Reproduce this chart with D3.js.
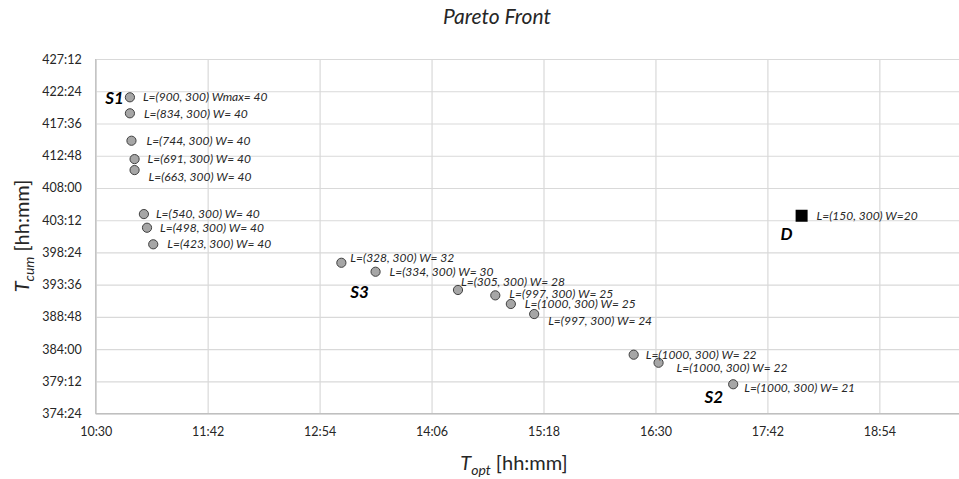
<!DOCTYPE html>
<html>
<head>
<meta charset="utf-8">
<script src="https://cdn.jsdelivr.net/npm/d3@7/dist/d3.min.js"></script>
<style>
  body { margin: 0; background: #fff; }
  text { font-family: Lato, "Open Sans", sans-serif; }
</style>
</head>
<body>
<div id="chart-area"></div>
<script>
// tick labels (hh:mm); the x axis runs on past the window edge to xEnd
const xTickLabels = ['10:30', '11:42', '12:54', '14:06', '15:18', '16:30', '17:42', '18:54'];
const xEnd = '20:06';
const yTickLabels = ['374:24', '379:12', '384:00', '388:48', '393:36', '398:24', '403:12', '408:00', '412:48', '417:36', '422:24', '427:12'];

// pareto solutions, values in minutes
const tOpt = [652, 652, 653, 655, 655, 661, 663, 667, 788, 810, 863, 887, 897, 912, 976, 992, 1040];
const tCum = [25290, 25147, 24902, 24738, 24640, 24247, 24125, 23977, 23812, 23732, 23569, 23521, 23444, 23354, 22991, 22919, 22727];
const pointLabels = [
    'L=(900, 300) Wmax= 40', 'L=(834, 300) W= 40', 'L=(744, 300) W= 40', 'L=(691, 300) W= 40',
    'L=(663, 300) W= 40', 'L=(540, 300) W= 40', 'L=(498, 300) W= 40', 'L=(423, 300) W= 40',
    'L=(328, 300) W= 32', 'L=(334, 300) W= 30', 'L=(305, 300) W= 28', 'L=(997, 300) W= 25',
    'L=(1000, 300) W= 25', 'L=(997, 300) W= 24', 'L=(1000, 300) W= 22', 'L=(1000, 300) W= 22',
    'L=(1000, 300) W= 21'
];

// default solution
const dOpt = [1084];
const dCum = [24232];
const dLabels = ['L=(150, 300) W=20'];

// group names and the point index they sit next to (-1 = default point)
const groupNames = ['S1', 'S3', 'S2', 'D'];
const groupPoint = [0, 8, 16, -1];

const toMin = s => { const [h, m] = s.split(':').map(Number); return h * 60 + m; };
const fmt = m => `${Math.floor(m / 60)}:${String(m % 60).padStart(2, '0')}`;

// label nudges (px), layout only
const labelShift = [[13, 0], [14, 0], [15, 0], [13, 0], [14, 7], [12, 0], [13, 0], [14, 0],
    [9, -5], [14, 0], [3, -8], [14, -2], [14, 0], [14, 7], [12, 0], [18, 5], [11, 4]];
const groupShift = [[-6, 1, 'end'], [9, 29, 'start'], [-10, 13, 'end'], [-9, 18, 'end']];

const width = 959, height = 479;
const plot = { left: 95.7, right: 991.3, top: 59, bottom: 413.7 };

const svg = d3.select('#chart-area').append('svg')
    .attr('width', width)
    .attr('height', height);

const xTicks = xTickLabels.map(toMin);
const yTicks = yTickLabels.map(toMin);

const x = d3.scaleLinear()
    .domain([xTicks[0], toMin(xEnd)])
    .range([plot.left, plot.right]);
const y = d3.scaleLinear()
    .domain([yTicks[0], yTicks[yTicks.length - 1]])
    .range([plot.bottom, plot.top]);

// gridlines
svg.append('g')
    .attr('transform', `translate(0, ${plot.bottom})`)
    .call(d3.axisBottom(x).tickValues(xTicks).tickSize(-(plot.bottom - plot.top)).tickFormat(''))
    .call(g => g.select('.domain').remove())
    .call(g => g.selectAll('line').attr('stroke', '#d9d9d9').attr('stroke-width', 1.2));
svg.append('g')
    .attr('transform', `translate(${plot.left}, 0)`)
    .call(d3.axisLeft(y).tickValues(yTicks).tickSize(-(plot.right - plot.left)).tickFormat(''))
    .call(g => g.select('.domain').remove())
    .call(g => g.selectAll('line').attr('stroke', '#d9d9d9').attr('stroke-width', 1.2));

// axis lines
svg.append('line').attr('x1', plot.left).attr('x2', plot.right).attr('y1', plot.bottom).attr('y2', plot.bottom)
    .attr('stroke', '#bfbfbf').attr('stroke-width', 1.2);
svg.append('line').attr('x1', plot.left).attr('x2', plot.left).attr('y1', plot.top).attr('y2', plot.bottom)
    .attr('stroke', '#bfbfbf').attr('stroke-width', 1.2);

// tick labels
svg.append('g')
    .attr('transform', `translate(0, ${plot.bottom})`)
    .call(d3.axisBottom(x).tickValues(xTicks).tickSize(0).tickPadding(13).tickFormat(fmt))
    .call(g => g.select('.domain').remove())
    .call(g => g.selectAll('text').attr('font-size', 12.5).attr('fill', '#262626')
        .style('font-family', 'Lato, sans-serif'));
svg.append('g')
    .attr('transform', `translate(${plot.left}, 0)`)
    .call(d3.axisLeft(y).tickValues(yTicks).tickSize(0).tickPadding(14).tickFormat(fmt))
    .call(g => g.select('.domain').remove())
    .call(g => g.selectAll('text').attr('font-size', 12.5).attr('fill', '#262626')
        .style('font-family', 'Lato, sans-serif'));

// title
svg.append('text')
    .attr('x', 497).attr('y', 24)
    .attr('text-anchor', 'middle')
    .attr('font-size', 21).attr('font-style', 'italic').attr('fill', '#262626')
    .text('Pareto Front');

// axis titles
const xt = svg.append('text')
    .attr('x', 514).attr('y', 470)
    .attr('text-anchor', 'middle')
    .attr('font-size', 20).attr('fill', '#262626');
xt.append('tspan').attr('font-style', 'italic').text('T');
xt.append('tspan').attr('font-style', 'italic').attr('font-size', 14).attr('dy', 5).text('opt');
xt.append('tspan').attr('dy', -5).text(' [hh:mm]');

const yt = svg.append('text')
    .attr('transform', `translate(29, 236) rotate(-90)`)
    .attr('text-anchor', 'middle')
    .attr('font-size', 20).attr('fill', '#262626');
yt.append('tspan').attr('font-style', 'italic').text('T');
yt.append('tspan').attr('font-style', 'italic').attr('font-size', 14).attr('dy', 5).text('cum');
yt.append('tspan').attr('dy', -5).text(' [hh:mm]');

// points
const pts = tOpt.map((t, i) => ({ t, c: tCum[i], label: pointLabels[i], i }));

svg.append('g').selectAll('circle')
    .data(pts)
    .join('circle')
    .attr('cx', d => x(d.t))
    .attr('cy', d => y(d.c))
    .attr('r', 4.6)
    .attr('fill', '#a6a6a6')
    .attr('stroke', '#404040')
    .attr('stroke-width', 1);

svg.append('g').selectAll('text')
    .data(pts)
    .join('text')
    .attr('x', d => x(d.t) + labelShift[d.i][0])
    .attr('y', d => y(d.c) + labelShift[d.i][1])
    .attr('dy', '0.35em')
    .attr('font-size', 12)
    .attr('font-style', 'italic')
    .attr('fill', '#262626')
    .text(d => d.label);

// default point
const dPts = dOpt.map((t, i) => ({ t, c: dCum[i], label: dLabels[i] }));
svg.append('g').selectAll('rect')
    .data(dPts)
    .join('rect')
    .attr('x', d => x(d.t) - 6)
    .attr('y', d => y(d.c) - 6)
    .attr('width', 12)
    .attr('height', 12)
    .attr('fill', '#000');
svg.append('g').selectAll('text')
    .data(dPts)
    .join('text')
    .attr('x', d => x(d.t) + 15)
    .attr('y', d => y(d.c))
    .attr('dy', '0.35em')
    .attr('font-size', 12)
    .attr('font-style', 'italic')
    .attr('fill', '#262626')
    .text(d => d.label);

// group names
svg.append('g').selectAll('text')
    .data(groupNames)
    .join('text')
    .attr('x', (d, i) => (groupPoint[i] < 0 ? x(dOpt[0]) : x(tOpt[groupPoint[i]])) + groupShift[i][0])
    .attr('y', (d, i) => (groupPoint[i] < 0 ? y(dCum[0]) : y(tCum[groupPoint[i]])) + groupShift[i][1])
    .attr('dy', '0.35em')
    .attr('text-anchor', (d, i) => groupShift[i][2])
    .attr('font-size', 17)
    .attr('font-weight', 'bold')
    .attr('font-style', 'italic')
    .attr('fill', '#000')
    .text(d => d);
</script>
</body>
</html>
